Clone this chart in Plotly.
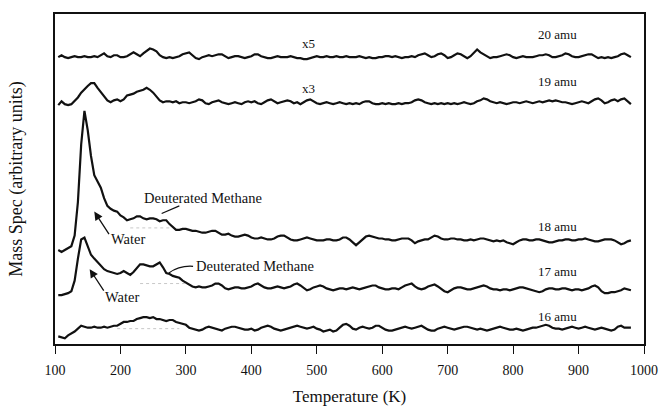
import numpy as np
import plotly.graph_objects as go

# Temperature grid of the desorption scans (K)
T_START, T_STOP, T_STEP = 105, 980, 5
temperature = np.arange(T_START, T_STOP + 1, T_STEP)

# Mass spec signals (arbitrary units), one value per grid point, rows of 50 K
amu20 = [
    0, 2, 0, -1, 0, 1, 0, 0, 1, 0,
    0, 1, 0, 2, 4, 1, 0, 2, 2, 0,
    0, 1, 3, 5, 3, 1, 4, 7, 9, 8,
    6, 2, 0, -1, 0, -1, 0, 1, 3, 4,
    5, 2, -1, -2, 0, 1, 2, 1, 2, 3,
    3, 1, -1, 0, 1, 1, 0, -1, 0, 1,
    3, 3, 1, 0, -1, -1, 0, 1, 0, 0,
    0, 1, 0, -1, -1, -2, -2, -1, 0, 1,
    0, 0, 1, 0, 0, 1, 0, 0, 1, 0,
    0, 0, 1, 0, -1, 0, -1, -1, 0, 0,
    1, 1, 0, 1, 0, -1, 0, 0, 1, 0,
    2, 3, 4, 2, 0, 1, 3, 4, 2, -1,
    0, 2, 4, 3, 1, -1, 1, 5, 8, 5,
    3, 1, -1, 0, 0, 1, 2, 3, 2, 0,
    -1, 0, 1, 0, 0, 0, 1, 2, 2, 3,
    2, 0, 0, 1, 2, 4, 3, 1, 0, 0,
    1, 2, 3, 3, 1, -1, 0, -1, 0, -1,
    0, 1, 3, 4, 2, 0,
]
amu19 = [
    -1, 3, 0, -1, 0, 3, 7, 12, 16, 19,
    22, 22, 17, 13, 8, 4, 2, 4, 5, 3,
    5, 9, 10, 11, 13, 14, 15, 17, 15, 12,
    8, 4, 2, 3, 3, 2, 3, 1, 2, 2,
    1, 2, 3, 5, 4, 1, 0, 2, 3, 4,
    2, 1, 0, 1, 2, 1, 0, 2, 3, 2,
    3, 1, 0, 2, 4, 5, 3, 1, 2, 3,
    4, 3, 1, 2, 0, 2, 4, 5, 3, 1,
    0, 1, 2, 1, 0, 1, 2, 1, 0, 1,
    0, 1, 0, 2, 3, 3, 1, 0, 0, 1,
    0, 1, 0, 0, 1, 0, 1, 1, 2, 4,
    5, 4, 2, 1, 0, 1, 0, 1, 0, 1,
    0, 1, 0, 1, 2, 1, 0, 1, 3, 4,
    6, 5, 3, 2, 1, 2, 1, 0, 1, 2,
    2, 1, 2, 3, 2, 1, 2, 3, 2, 3,
    4, 3, 4, 3, 2, 2, 1, 0, 1, 2,
    3, 2, 1, 3, 5, 6, 4, 1, 2, 4,
    5, 3, 5, 6, 3, 0,
]
amu18 = [
    -10, -12, -10, -8, -6, 5, 40, 100, 135, 115,
    88, 68, 62, 55, 44, 36, 33, 31, 30, 26,
    24, 21, 22, 23, 25, 25, 23, 22, 23, 23,
    22, 20, 21, 21, 17, 14, 11, 11, 12, 12,
    11, 10, 10, 9, 8, 8, 9, 10, 10, 8,
    6, 6, 7, 5, 4, 4, 5, 6, 5, 3,
    2, 2, 3, 2, 1, 1, 2, 4, 5, 5,
    3, 1, 0, 0, 1, 2, 3, 2, 1, 0,
    0, 0, 1, 1, 0, 0, 1, 3, 3, 1,
    -2, -5, -2, 1, 4, 5, 4, 3, 2, 2,
    1, 1, 0, 0, 1, 2, 2, 2, 0, -3,
    -1, 0, 1, 1, 3, 5, 4, 2, 1, 1,
    2, 2, 1, 1, 0, 0, 1, 0, 1, 2,
    2, 1, 0, -1, 0, -1, 0, -2, -3, -4,
    -2, 0, 1, 1, 0, 0, 1, 1, 0, -1,
    -2, -2, -1, 0, 0, 1, 1, 0, 0, 1,
    1, 2, 1, 0, -1, -1, 0, 1, 1, 1,
    0, -2, -4, -3, -1, 0,
]
amu17 = [
    -6, -6, -5, -4, -2, 9, 32, 52, 54, 44,
    36, 32, 28, 24, 21, 19, 18, 17, 16, 17,
    19, 17, 15, 18, 22, 26, 26, 25, 24, 24,
    26, 28, 23, 17, 16, 14, 13, 12, 9, 7,
    5, 3, 2, 3, 2, 2, 3, 4, 6, 6,
    4, 1, 0, 1, 2, 2, 1, 1, 2, 3,
    5, 6, 4, 2, 1, 1, 2, 3, 2, 1,
    2, 3, 5, 6, 4, 1, -1, 0, 2, 3,
    4, 3, 1, 0, -1, 0, 1, 1, 0, 1,
    2, 1, 0, 1, 2, 3, 4, 4, 2, 1,
    0, 0, 1, 1, 0, 2, 4, 5, 6, 3,
    1, 0, 1, 3, 4, 5, 3, 0, -2, -3,
    -1, 1, 2, 2, 1, 0, 0, 1, 2, 3,
    4, 3, 1, 0, 0, -1, 0, 0, -1, 0,
    1, 2, 2, 1, 0, -1, -2, -3, -2, 0,
    1, 1, 0, 0, 1, 1, 0, -1, 0, 0,
    -1, 0, 1, 3, 4, 2, -2, -4, -4, -3,
    -3, -2, -1, 1, 0, -1,
]
amu16 = [
    -8, -9, -10, -7, -5, -3, 0, 3, 2, 1,
    1, 2, 1, 1, 2, 1, 2, 3, 3, 5,
    7, 7, 8, 8, 10, 11, 12, 12, 11, 12,
    10, 10, 9, 8, 9, 9, 7, 6, 5, 4,
    1, 0, -1, -2, -1, 1, 2, 1, 0, -1,
    -2, 0, 1, 2, 2, 1, 0, -1, -1, 0,
    -2, -1, 1, 2, 3, 2, 0, -1, -2, -1,
    0, 1, 2, 3, 2, 1, 0, 1, 2, 0,
    -1, -3, -2, -1, -3, -2, 1, 4, 5, 3,
    0, -1, 1, 2, 1, 0, 1, 3, 3, 1,
    -1, -2, -2, -1, 0, 1, 2, 1, 0, 1,
    2, 3, 1, -1, -2, -2, 0, 1, 2, 1,
    0, -1, 0, 1, 2, 2, 1, 0, -1, 0,
    -1, -2, -1, 0, 1, 2, 1, 0, -1, -1,
    0, -1, -2, -1, 0, 1, 1, 2, 3, 4,
    3, 1, 0, 0, -1, 0, 1, 2, 1, 0,
    1, 2, 1, 0, -1, 0, 1, 0, -1, -2,
    -1, 2, 3, 1, 1, 1,
]

# Vertical stacking of the traces
series = [
    ("20 amu", amu20, 299),
    ("19 amu", amu19, 250),
    ("18 amu", amu18, 108),
    ("17 amu", amu17, 57),
    ("16 amu", amu16, 16),
]
# Label positions (temperature, height) for each mass label
label_T = 868
label_y = {"20 amu": 323, "19 amu": 274, "18 amu": 123, "17 amu": 76, "16 amu": 29}
scale_labels = [("x5", 488, 313), ("x3", 488, 266)]

# Faint dotted baselines under the methane humps: (T0, T1, height)
baselines = [(215, 275, 121), (230, 300, 63), (195, 290, 16)]

SERIF = "Liberation Serif, Times New Roman, serif"
INK = "#111111"

fig = go.Figure()
for name, vals, off in series:
    fig.add_trace(go.Scatter(
        x=temperature, y=np.array(vals) + off, mode="lines", name=name,
        line=dict(color=INK, width=2.2), showlegend=False,
    ))
for t0, t1, h in baselines:
    fig.add_trace(go.Scatter(
        x=[t0, t1], y=[h, h], mode="lines", showlegend=False,
        line=dict(color="#c8c8c8", width=1, dash="dot"),
    ))

ann = []
for name, _, _ in series:
    ann.append(dict(x=label_T, y=label_y[name], text=name, showarrow=False,
                    font=dict(family=SERIF, size=13, color=INK)))
for txt, t, h in scale_labels:
    ann.append(dict(x=t, y=h, text=txt, showarrow=False,
                    font=dict(family=SERIF, size=13, color=INK)))

# Peak assignments
ann += [
    dict(x=326, y=152, text="Deuterated Methane", showarrow=False,
         font=dict(family=SERIF, size=14.5, color=INK)),
    dict(x=406, y=81, text="Deuterated Methane", showarrow=False,
         font=dict(family=SERIF, size=14.5, color=INK)),
    dict(x=212, y=109, text="Water", showarrow=False,
         font=dict(family=SERIF, size=14.5, color=INK)),
    dict(x=202, y=49, text="Water", showarrow=False,
         font=dict(family=SERIF, size=14.5, color=INK)),
    dict(x=160, y=138, ax=184, ay=113, xref="x", yref="y", axref="x", ayref="y",
         text="", showarrow=True, arrowhead=2, arrowsize=1.3, arrowwidth=1.3,
         arrowcolor=INK),
    dict(x=153, y=78, ax=176, ay=54, xref="x", yref="y", axref="x", ayref="y",
         text="", showarrow=True, arrowhead=2, arrowsize=1.3, arrowwidth=1.3,
         arrowcolor=INK),
]

shapes = [
    dict(type="line", xref="x", yref="y", x0=263, y0=136, x1=290, y1=144,
         line=dict(color=INK, width=1.2)),
    dict(type="path", xref="x", yref="y",
         path="M 274 74 Q 290 82 311 81",
         line=dict(color=INK, width=1.2)),
]

fig.update_layout(
    width=670, height=415,
    margin=dict(l=55, r=18, t=12, b=59),
    paper_bgcolor="white", plot_bgcolor="white",
    annotations=ann, shapes=shapes,
    font=dict(family=SERIF, color=INK),
)
fig.update_xaxes(
    range=[100, 1000], tickmode="array",
    tickvals=[100, 200, 300, 400, 500, 600, 700, 800, 900, 1000],
    ticks="outside", ticklen=8, tickwidth=1.2, tickcolor=INK,
    ticklabelstandoff=4,
    showline=True, linecolor=INK, linewidth=1.5, mirror=True,
    showgrid=False, zeroline=False,
    tickfont=dict(family=SERIF, size=14, color=INK),
    title=dict(text="Temperature (K)", font=dict(family=SERIF, size=17, color=INK),
               standoff=14),
)
fig.update_yaxes(
    range=[0, 344], showticklabels=False, ticks="",
    showline=True, linecolor=INK, linewidth=1.5, mirror=True,
    showgrid=False, zeroline=False,
    title=dict(text="Mass Spec (arbitrary units)",
               font=dict(family=SERIF, size=18, color=INK), standoff=26),
)

fig.write_html("out.html")
